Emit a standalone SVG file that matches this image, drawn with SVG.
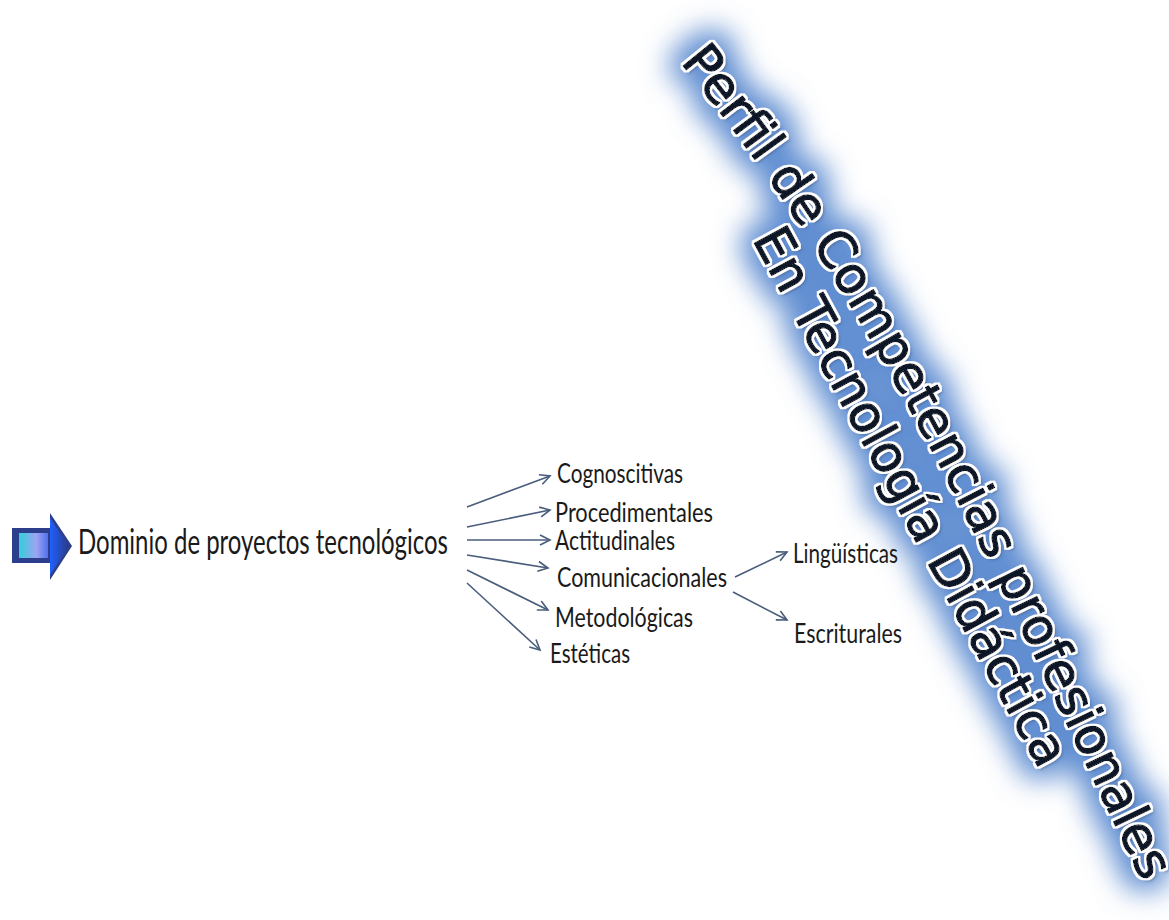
<svg xmlns="http://www.w3.org/2000/svg" width="1169" height="920" viewBox="0 0 1169 920">
  <style>
    .lbl { font-family: "Lato", "Liberation Sans", sans-serif; fill: #1a1a1a; }
    .small { font-size: 26px; }
    .link { fill: none; stroke: #4a5d7c; stroke-width: 1.6; marker-end: url(#vhead); }
    .title { font-family: "DejaVu Sans", "Liberation Sans", sans-serif; font-size: 51px;
             fill: #0e1626; stroke: #0e1626; stroke-width: 1.3; stroke-linejoin: round; }
  </style>
  <defs>
    <marker id="vhead" markerUnits="userSpaceOnUse" markerWidth="14" markerHeight="14"
            refX="11" refY="6" orient="auto">
      <path d="M1,1 L11,6 L1,11" fill="none" stroke="#4a5d7c" stroke-width="1.6"/>
    </marker>
    <linearGradient id="shaftFill" x1="0" y1="0" x2="1" y2="0">
      <stop offset="0" stop-color="#33cfdc"/>
      <stop offset="0.6" stop-color="#9ea4f2"/>
      <stop offset="1" stop-color="#4f72ee"/>
    </linearGradient>
    <linearGradient id="headFill" x1="0" y1="0" x2="1" y2="0">
      <stop offset="0" stop-color="#1f60ff"/>
      <stop offset="1" stop-color="#2b3a86"/>
    </linearGradient>
    <!-- blue halo, soft drop shade and thin white rim around the title letters -->
    <filter id="glow" filterUnits="userSpaceOnUse" x="500" y="0" width="669" height="920">
      <feMorphology in="SourceAlpha" operator="dilate" radius="12" result="fat"/>
      <feGaussianBlur in="fat" stdDeviation="14" result="soft"/>
      <feFlood flood-color="#5888cf" flood-opacity="0.95"/>
      <feComposite in2="soft" operator="in" result="halo"/>
      <feGaussianBlur in="SourceAlpha" stdDeviation="1.8" result="sb"/>
      <feOffset in="sb" dx="2.5" dy="2.5" result="so"/>
      <feFlood flood-color="#1b2a48" flood-opacity="0.45"/>
      <feComposite in2="so" operator="in" result="shade"/>
      <feMorphology in="SourceAlpha" operator="dilate" radius="2" result="rimA"/>
      <feFlood flood-color="#ffffff"/>
      <feComposite in2="rimA" operator="in" result="rim"/>
      <feMerge>
        <feMergeNode in="halo"/>
        <feMergeNode in="shade"/>
        <feMergeNode in="rim"/>
        <feMergeNode in="SourceGraphic"/>
      </feMerge>
    </filter>
    <path id="titleLine1" d="M680,62 C884,310 1003,595 1143,883 L1175,949"/>
    <path id="titleLine2" d="M752,239 L1070,826"/>
  </defs>

  <rect width="1169" height="920" fill="#ffffff"/>

  <!-- slanted title with blue glow -->
  <g id="title" filter="url(#glow)">
    <text class="title"><textPath href="#titleLine1">Perfil de Competencias profesionales</textPath></text>
    <text class="title"><textPath href="#titleLine2">En Tecnología Didáctica</textPath></text>
  </g>

  <!-- block arrow in front of the root label -->
  <g id="start-arrow">
    <polygon points="12,528 50,528 50,513 72,546 50,580 50,563 12,563" fill="#2c3e8c"/>
    <polygon points="50,518 69,546 50,575" fill="url(#headFill)"/>
    <rect x="19" y="533" width="29" height="25" fill="url(#shaftFill)"/>
  </g>

  <g id="root">
    <text class="lbl" x="78" y="554" font-size="34" textLength="370" lengthAdjust="spacingAndGlyphs">Dominio de proyectos tecnológicos</text>
  </g>

  <g id="connectors">
    <line class="link" x1="467" y1="507" x2="550" y2="476"/>
    <line class="link" x1="467" y1="527" x2="550" y2="510"/>
    <line class="link" x1="467" y1="540" x2="550" y2="540"/>
    <line class="link" x1="467" y1="555" x2="548" y2="568"/>
    <line class="link" x1="467" y1="570" x2="548" y2="610"/>
    <line class="link" x1="467" y1="583" x2="540" y2="650"/>
    <line class="link" x1="735" y1="577" x2="787" y2="552"/>
    <line class="link" x1="733" y1="592" x2="787" y2="620"/>
  </g>

  <g id="cognoscitivas"><text class="lbl small" x="557" y="483" textLength="126" lengthAdjust="spacingAndGlyphs">Cognoscitivas</text></g>
  <g id="procedimentales"><text class="lbl small" x="555" y="522" textLength="158" lengthAdjust="spacingAndGlyphs">Procedimentales</text></g>
  <g id="actitudinales"><text class="lbl small" x="555" y="550" textLength="120" lengthAdjust="spacingAndGlyphs">Actitudinales</text></g>
  <g id="comunicacionales"><text class="lbl small" x="557" y="587" textLength="170" lengthAdjust="spacingAndGlyphs">Comunicacionales</text></g>
  <g id="metodologicas"><text class="lbl small" x="555" y="627" textLength="138" lengthAdjust="spacingAndGlyphs">Metodológicas</text></g>
  <g id="esteticas"><text class="lbl small" x="550" y="663" textLength="80" lengthAdjust="spacingAndGlyphs">Estéticas</text></g>
  <g id="linguisticas"><text class="lbl small" x="793" y="563" textLength="105" lengthAdjust="spacingAndGlyphs">Lingüísticas</text></g>
  <g id="escriturales"><text class="lbl small" x="794" y="643" textLength="108" lengthAdjust="spacingAndGlyphs">Escriturales</text></g>
</svg>
